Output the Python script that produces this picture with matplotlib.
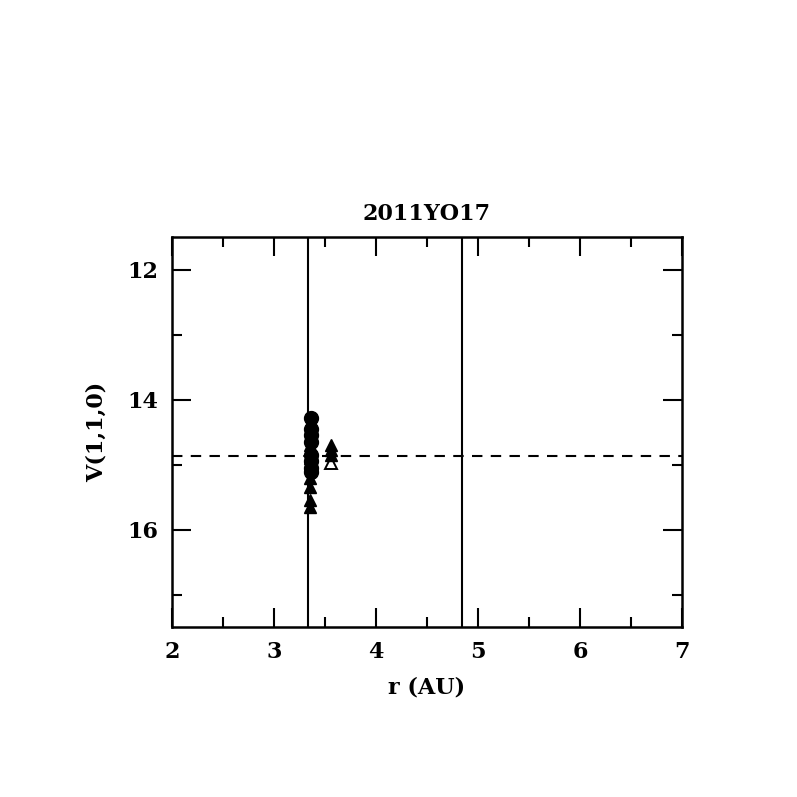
import numpy as np
import matplotlib
matplotlib.use("Agg")
import matplotlib.pyplot as plt
from matplotlib.ticker import MultipleLocator

# data
circ_r = [3.36, 3.36, 3.36, 3.36, 3.36, 3.36, 3.36, 3.36]
circ_v = [14.28, 14.45, 14.55, 14.65, 14.85, 14.95, 15.05, 15.12]
tri_r = [3.35, 3.35, 3.35, 3.35, 3.35, 3.35, 3.35, 3.56, 3.56, 3.56]
tri_v = [14.7, 14.9, 15.0, 15.2, 15.35, 15.55, 15.65, 14.7, 14.78, 14.86]
open_r = [3.56]
open_v = [14.97]
vlines = [3.33, 4.84]
v_mean = 14.87

plt.rcParams["font.family"] = ["DejaVu Serif"]
plt.rcParams["font.weight"] = "bold"

fig = plt.figure(figsize=(7.97, 7.97), dpi=100)
ax = fig.add_axes([0.2158, 0.2133, 0.6399, 0.4893])

ax.plot(circ_r, circ_v, "o", color="black", markersize=10)
ax.plot(tri_r, tri_v, "^", color="black", markersize=9)
ax.plot(open_r, open_v, "^", markerfacecolor="none", markeredgecolor="black",
        markersize=9, markeredgewidth=1.4)

for x in vlines:
    ax.axvline(x, color="black", linewidth=1.5)
ax.axhline(v_mean, color="black", linestyle=(0, (5, 4)), linewidth=1.5)

ax.set_xlim(2, 7)
ax.set_ylim(17.5, 11.5)
ax.xaxis.set_major_locator(MultipleLocator(1))
ax.xaxis.set_minor_locator(MultipleLocator(0.5))
ax.yaxis.set_major_locator(MultipleLocator(2))
ax.yaxis.set_minor_locator(MultipleLocator(1))
ax.tick_params(which="both", direction="in", top=True, right=True, width=1.5,
               labelsize=16, pad=10)
ax.tick_params(which="major", length=14)
ax.tick_params(which="minor", length=7)
for s in ax.spines.values():
    s.set_linewidth(1.8)

ax.set_xlabel("r (AU)", fontsize=16, fontweight="bold", labelpad=10)
ax.set_ylabel("V(1,1,0)", fontsize=16, fontweight="bold", labelpad=14)
ax.set_title("2011YO17", fontsize=16, fontweight="bold", pad=12)

plt.savefig("out.png", dpi=100)
